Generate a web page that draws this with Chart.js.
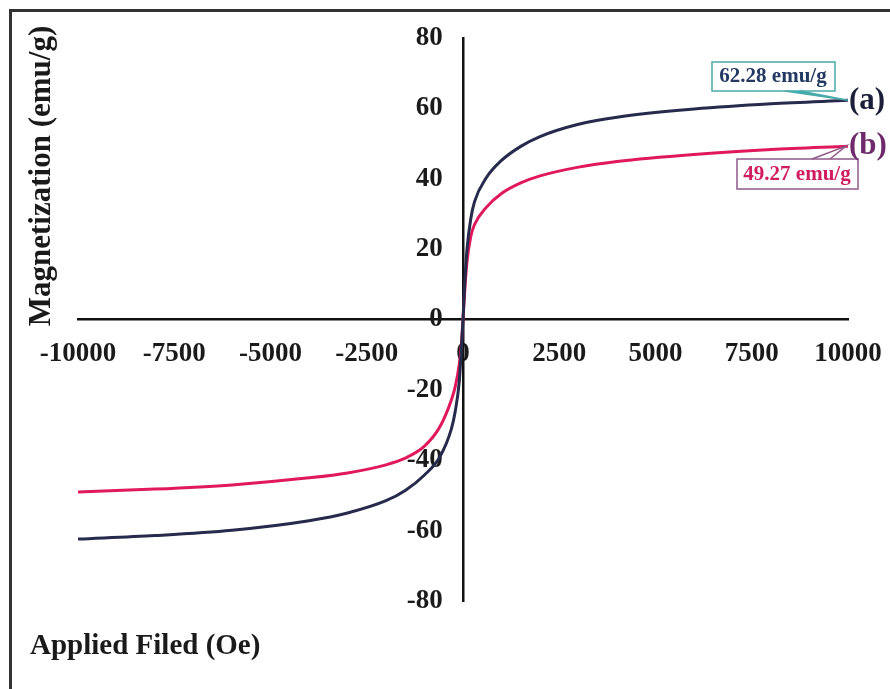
<!DOCTYPE html>
<html>
<head>
<meta charset="utf-8">
<script src="https://cdn.jsdelivr.net/npm/chart.js@4/dist/chart.umd.min.js"></script>
<style>
  html, body { margin: 0; padding: 0; background: #fff; }
  #wrap { position: relative; width: 890px; height: 689px; }
  #frame { position: absolute; left: 9px; top: 9px; right: 0; bottom: 0;
           border-left: 3px solid #333; border-top: 3px solid #333; pointer-events: none; }
</style>
</head>
<body>
<div id="wrap">
  <canvas id="chart" width="890" height="689"></canvas>
  <div id="frame"></div>
</div>
<script>
// applied field (Oe)
const field = [-10000, -8000, -6000, -4000, -3000, -2000, -1500, -1000, -600, -300, -200, -100, -50,
  0, 50, 100, 200, 300, 600, 1000, 1500, 2000, 3000, 4000, 6000, 8000, 10000]
// magnetization (emu/g)
const sampleA = [-62.4, -61.4, -59.9, -57.2, -55.0, -51.5, -48.6, -44.2, -39.0, -31.0, -26.0, -18.0, -10.0,
  0, 11.0, 19.5, 28.5, 33.5, 40.2, 45.2, 49.2, 52.0, 55.5, 57.5, 59.8, 61.3, 62.28]
const sampleB = [-49.0, -48.2, -47.0, -45.0, -43.6, -41.3, -39.4, -36.0, -30.5, -22.8, -19.0, -13.0, -8.0,
  0, 9.0, 16.0, 23.5, 27.0, 31.8, 35.8, 38.8, 40.8, 43.3, 44.9, 46.9, 48.3, 49.27]
const xTicks = [-10000, -7500, -5000, -2500, 0, 2500, 5000, 7500, 10000]
const yTicks = [-80, -60, -40, -20, 0, 20, 40, 60, 80]

const NAVY = '#262a4c'
const RED = '#e0195c'
const SERIF = "'Liberation Serif', 'Times New Roman', serif"
const tickFont = { family: SERIF, size: 27, weight: 'bold' }

const toPoints = ys => field.map((x, i) => ({ x: x, y: ys[i] }))
const noPad = s => { s.paddingLeft = 0; s.paddingRight = 0; s.paddingTop = 0; s.paddingBottom = 0 }

const extras = {
  id: 'extras',
  afterDraw(chart) {
    const ctx = chart.ctx
    const xs = chart.scales.x, ys = chart.scales.y
    ctx.save()
    ctx.fillStyle = '#1a1a1a'
    ctx.font = 'bold 31px ' + SERIF
    // y title
    ctx.save()
    ctx.translate(42, 176)
    ctx.rotate(-Math.PI / 2)
    ctx.textAlign = 'center'
    ctx.textBaseline = 'middle'
    ctx.fillText('Magnetization (emu/g)', 0, 0)
    ctx.restore()
    // x title
    ctx.font = 'bold 29px ' + SERIF
    ctx.textAlign = 'left'
    ctx.textBaseline = 'middle'
    ctx.fillText('Applied Filed (Oe)', 30, 647)

    // callout (a)
    const ax = xs.getPixelForValue(10000), ay = ys.getPixelForValue(sampleA[sampleA.length - 1])
    ctx.strokeStyle = '#4aa9a9'
    ctx.lineWidth = 1.5
    ctx.fillStyle = '#fff'
    ctx.fillRect(712, 62, 123, 29)
    ctx.strokeRect(712, 62, 123, 29)
    ctx.beginPath()
    ctx.moveTo(785, 91); ctx.lineTo(ax, ay); ctx.lineTo(800, 91)
    ctx.fillStyle = '#2fb2b8'
    ctx.fill()
    ctx.stroke()
    ctx.fillStyle = '#243a63'
    ctx.font = 'bold 21px ' + SERIF
    ctx.textAlign = 'center'
    ctx.fillText('62.28 emu/g', 773, 77)
    ctx.fillStyle = '#1c1f3a'
    ctx.font = 'bold 31px ' + SERIF
    ctx.textAlign = 'left'
    ctx.fillText('(a)', ax + 1, ay + 1)

    // callout (b)
    const bx = xs.getPixelForValue(10000), by = ys.getPixelForValue(sampleB[sampleB.length - 1])
    ctx.strokeStyle = '#8f5a8a'
    ctx.lineWidth = 1.5
    ctx.fillStyle = '#fff'
    ctx.fillRect(737, 159, 121, 30)
    ctx.strokeRect(737, 159, 121, 30)
    ctx.beginPath()
    ctx.moveTo(812, 159); ctx.lineTo(bx - 2, by); ctx.lineTo(830, 159)
    ctx.stroke()
    ctx.fillStyle = '#d01c60'
    ctx.font = 'bold 21px ' + SERIF
    ctx.textAlign = 'center'
    ctx.fillText('49.27 emu/g', 797, 175)
    ctx.fillStyle = '#6e2a6a'
    ctx.font = 'bold 31px ' + SERIF
    ctx.textAlign = 'left'
    ctx.fillText('(b)', bx + 1, by)
    ctx.restore()
  }
}

new Chart(document.getElementById('chart'), {
  type: 'scatter',
  data: {
    datasets: [
      { label: '(a)', data: toPoints(sampleA), borderColor: NAVY, borderWidth: 3 },
      { label: '(b)', data: toPoints(sampleB), borderColor: RED, borderWidth: 3 }
    ].map(d => Object.assign(d, { showLine: true, pointRadius: 0, cubicInterpolationMode: 'monotone', fill: false }))
  },
  options: {
    responsive: false,
    animation: false,
    layout: { padding: { left: 78, right: 42, top: 38, bottom: 88 } },
    plugins: { legend: { display: false }, tooltip: { enabled: false } },
    scales: {
      x: {
        type: 'linear', min: -10000, max: 10000,
        position: { y: 0 },
        grid: { display: false, drawTicks: false },
        border: { display: true, color: '#111', width: 2.5 },
        afterBuildTicks: s => { s.ticks = xTicks.map(v => ({ value: v })) },
        afterFit: noPad,
        ticks: { font: tickFont, color: '#1a1a1a', padding: 18, maxRotation: 0, autoSkip: false,
                 callback: v => String(v) }
      },
      y: {
        type: 'linear', min: -80, max: 80,
        position: { x: 0 },
        grid: { display: false, drawTicks: false },
        border: { display: true, color: '#111', width: 2.5 },
        afterBuildTicks: s => { s.ticks = yTicks.map(v => ({ value: v })) },
        afterFit: noPad,
        // labels sit right-aligned on a centred axis, so trailing spaces give the gap
        ticks: { font: tickFont, color: '#1a1a1a', autoSkip: false, callback: v => v + '   ' }
      }
    }
  },
  plugins: [extras]
})
</script>
</body>
</html>
